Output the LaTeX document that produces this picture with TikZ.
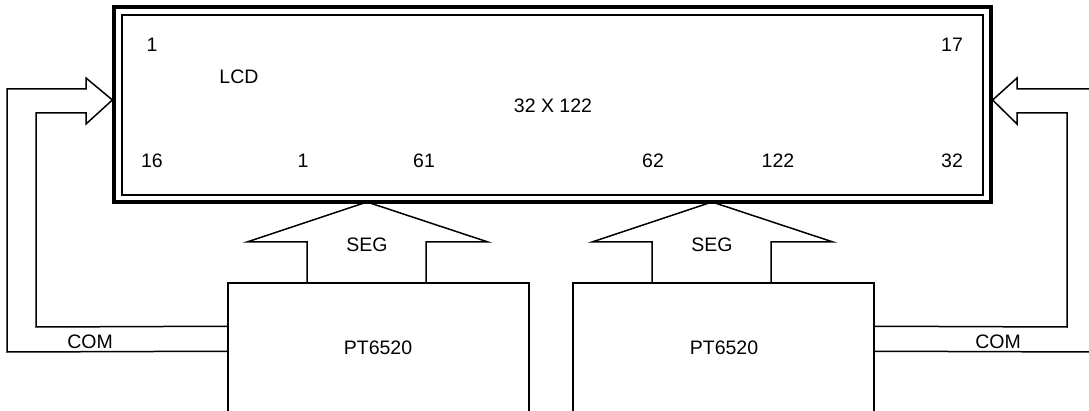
\documentclass[tikz,border=0pt]{standalone}
\usepackage{fontspec}
\setmainfont{Liberation Sans}
\usetikzlibrary{calc}

\begin{document}
\begin{tikzpicture}[x=1pt, y=-1pt,
  lbl/.style={font=\fontsize{19.5}{22}\selectfont, inner sep=0pt},
  chip/.style={draw, line width=1.5pt, minimum width=301pt, minimum height=160pt, inner sep=0pt},
  wire/.style={line width=1.5pt}]

\clip (0,0) rectangle (1089,411);

% LCD panel
\node[draw, line width=3.2pt, minimum width=877pt, minimum height=195pt, inner sep=0pt] (lcd) at (552.5,104.5) {};
\node[draw, line width=1.5pt, minimum width=861pt, minimum height=180pt, inner sep=0pt] (lcdin) at (552.5,105) {};

\node[lbl] (comA) at (152,45) {1};
\node[lbl] (comB) at (952,45) {17};
\node[lbl] (comC) at (152,161) {16};
\node[lbl] (comD) at (952,161) {32};
\node[lbl] (name) at (239,77) {LCD};
\node[lbl] (size) at (553,106) {32 X 122};
\node[lbl] (segA) at (303,161) {1};
\node[lbl] (segB) at (424,161) {61};
\node[lbl] (segC) at (653,161) {62};
\node[lbl] (segD) at (778,161) {122};

% drivers
\node[chip] (drvA) at (378.5,363) {};
\node[chip] (drvB) at (723.5,363) {};
\node[lbl] (drvAtxt) at (378,348) {PT6520};
\node[lbl] (drvBtxt) at (724,348) {PT6520};

% SEG arrows
\draw[wire] (307,283) -- (307,242) -- (247,242) -- (367,202) -- (488,242) -- (426,242) -- (426,283);
\node[lbl] (segAtxt) at (367,245) {SEG};
\draw[wire] (652,283) -- (652,242) -- (592,242) -- (712,202) -- (833,242) -- (771,242) -- (771,283);
\node[lbl] (segBtxt) at (712,245) {SEG};

% COM arrows
\path (lcd.west) ++(0,-4.5) coordinate (tipL);
\path (lcd.east) ++(0,-4.5) coordinate (tipR);

\draw[wire] ($(drvA.north west)+(0,69)$) -- (7,352) -- (7,89) -- (86,89) -- (86,78) -- (tipL)
  -- (86,124) -- (86,113) -- (36,113) -- (36,327) -- ($(drvA.north west)+(0,44)$);
\node[lbl] (comLtxt) at (90,342) {COM};

\draw[wire] ($(drvB.north east)+(0,44)$) -- (1067,327) -- (1067,113) -- (1017,113) -- (1017,124)
  -- (tipR) -- (1017,78) -- (1017,89) -- (1095,89);
\draw[wire] ($(drvB.north east)+(0,69)$) -- (1095,352);
\node[lbl] (comRtxt) at (998,342) {COM};

\end{tikzpicture}
\end{document}
